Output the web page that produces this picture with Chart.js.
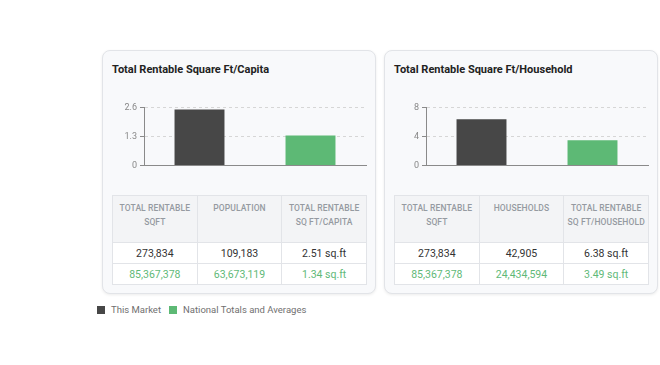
<!DOCTYPE html>
<html>
<head>
<meta charset="utf-8">
<script src="https://cdn.jsdelivr.net/npm/chart.js@4.4.0/dist/chart.umd.min.js"></script>
<style>
  html, body { margin: 0; padding: 0; background: #fff; }
  body { width: 660px; height: 365px; position: relative; font-family: Roboto, "Noto Sans", sans-serif; overflow: hidden; }
  .card {
    position: absolute; top: 50px; width: 272px; height: 242px;
    background: #f8f9fb; border: 1px solid #e2e4e8; border-radius: 8px;
    box-shadow: 0 1px 3px rgba(0,0,0,0.08);
  }
  .card h3 { position: absolute; left: 9px; top: 12px; margin: 0; font-size: 11px; font-weight: 700; color: #222; }
  .chart-box { position: absolute; left: 9px; top: 48px; width: 256px; height: 75px; }
  table {
    position: absolute; left: 9px; top: 144px; width: 255px;
    border-collapse: collapse; table-layout: fixed;
  }
  th, td { border: 1px solid #e2e4e8; text-align: center; }
  th {
    background: #f3f4f6; color: #959aa1; font-size: 8.5px; font-weight: 500;
    height: 47px; vertical-align: top; padding: 5px 2px 0; line-height: 14px;
    letter-spacing: 0.1px; box-sizing: border-box;
  }
  td { background: #fff; font-size: 10.5px; height: 20px; padding: 0; color: #333; }
  tr.nat td { color: #5fb978; }
  .legend { position: absolute; left: 97px; top: 304px; font-size: 9.5px; color: #707070; display: flex; align-items: center; }
  .legend span.sw { display: inline-block; width: 8px; height: 8px; margin-right: 6px; }
  .legend span.lb { margin-right: 8px; }
</style>
</head>
<body>
<div class="card" style="left:102px">
  <h3>Total Rentable Square Ft/Capita</h3>
  <div class="chart-box"><canvas id="capitaChart"></canvas></div>
  <table id="capitaTable"></table>
</div>
<div class="card" style="left:384px">
  <h3>Total Rentable Square Ft/Household</h3>
  <div class="chart-box"><canvas id="householdChart"></canvas></div>
  <table id="householdTable"></table>
</div>
<div class="legend" id="legend"></div>

<script>
// Data
const categories = ['This Market', 'National Totals and Averages'];
const barColors = ['#474747', '#5db975'];
const capitaValues = [2.51, 1.34];
const householdValues = [6.38, 3.49];
const capitaTicks = [0, 1.3, 2.6];
const householdTicks = [0, 4, 8];
const rentableSqft = [273834, 85367378];
const population = [109183, 63673119];
const households = [42905, 24434594];

function makeChart(id, values, ticks) {
    const ctx = document.getElementById(id).getContext('2d');
    return new Chart(ctx, {
        type: 'bar',
        data: {
            labels: categories,
            datasets: [{
                data: values,
                backgroundColor: barColors,
                barPercentage: 0.9,
                categoryPercentage: 0.5
            }]
        },
        options: {
            responsive: true,
            maintainAspectRatio: false,
            animation: false,
            layout: { padding: { top: 4, right: 2, left: 0 } },
            plugins: { legend: { display: false }, tooltip: { enabled: false } },
            scales: {
                x: {
                    ticks: { display: false },
                    grid: { display: false },
                    border: { color: '#8a8a8a' }
                },
                y: {
                    min: ticks[0],
                    max: ticks[ticks.length - 1],
                    afterBuildTicks: axis => { axis.ticks = ticks.map(v => ({ value: v })); },
                    afterFit: axis => { axis.width = 32; },
                    ticks: { color: '#888', font: { family: 'Roboto', size: 9 }, padding: 3 },
                    grid: { color: '#d6d6d6', tickColor: '#8a8a8a', tickLength: 4 },
                    border: { color: '#8a8a8a', dash: [3, 3] }
                }
            }
        }
    });
}

makeChart('capitaChart', capitaValues, capitaTicks);
makeChart('householdChart', householdValues, householdTicks);

function fmt(n) { return n.toLocaleString('en-US'); }

function makeTable(id, midHead, mid, lastHead, ratios) {
    const t = document.getElementById(id);
    let html = '<tr><th>TOTAL RENTABLE<br>SQFT</th><th>' + midHead + '</th><th>' + lastHead + '</th></tr>';
    for (let i = 0; i < 2; i++) {
        html += '<tr class="' + (i === 1 ? 'nat' : '') + '"><td>' + fmt(rentableSqft[i]) + '</td><td>' +
            fmt(mid[i]) + '</td><td>' + ratios[i].toFixed(2) + ' sq.ft</td></tr>';
    }
    t.innerHTML = html;
}
makeTable('capitaTable', 'POPULATION', population, 'TOTAL RENTABLE<br>SQ FT/CAPITA', capitaValues);
makeTable('householdTable', 'HOUSEHOLDS', households, 'TOTAL RENTABLE<br>SQ FT/HOUSEHOLD', householdValues);

const legend = document.getElementById('legend');
legend.innerHTML = categories.map((c, i) =>
    '<span class="sw" style="background:' + barColors[i] + '"></span><span class="lb">' + c + '</span>').join('');
</script>
</body>
</html>
